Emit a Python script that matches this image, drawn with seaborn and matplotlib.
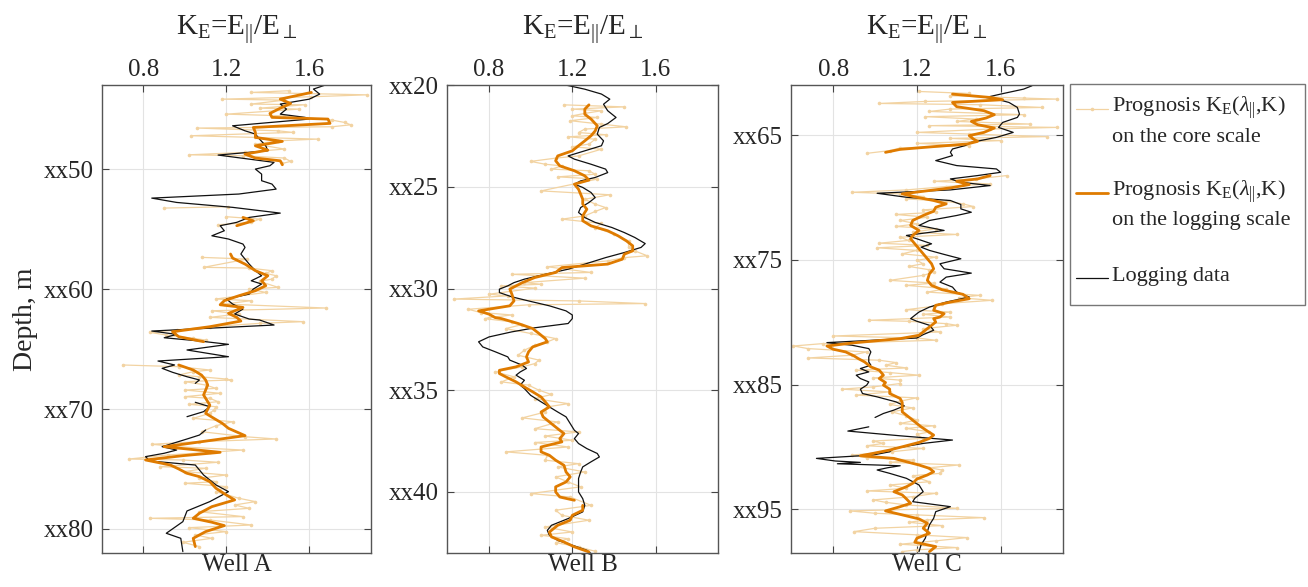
import numpy as np
import pandas as pd
import matplotlib
matplotlib.use('Agg')
import matplotlib.pyplot as plt
from matplotlib.lines import Line2D
from matplotlib.patches import Rectangle
import seaborn as sns

# (depth, K_E) pairs, None = gap in the curve

# ---- Well A ----
a_logging = [(42.92, 1.69), (43.33, 1.62), (43.75, 1.65), (44.17, 1.60), (44.58, 1.46), (45.0, 1.49),
             (45.42, 1.46), (45.69, 1.58), (45.83, 1.60), (46.39, 1.23), (46.81, 1.29), (47.08, 1.34),
             (47.5, 1.36), (48.06, 1.39), (48.47, 1.40), (48.83, 1.16), (49.17, 1.31), (49.44, 1.43),
             (49.72, 1.41), (50.0, 1.34), (50.42, 1.37), (50.97, 1.37), (51.25, 1.42), (51.67, 1.44),
             (52.08, 1.26), (52.42, 0.84), (52.78, 0.96), (53.19, 1.23), (53.67, 1.46), (54.03, 1.31),
             (54.44, 1.25), (54.72, 1.17), (55.14, 1.19), (55.56, 1.13), (55.83, 1.21), (56.25, 1.28),
             (56.53, 1.29), (57.08, 1.27), (57.5, 1.29), (57.92, 1.31), (58.47, 1.34), (58.89, 1.37),
             (59.31, 1.32), (59.58, 1.37), (60.0, 1.33), (60.42, 1.31), (60.83, 1.20), (61.25, 1.23),
             (61.67, 1.28), (62.08, 1.24), (62.5, 1.31), (62.58, 1.36), (63.0, 1.43), (63.5, 0.84),
             (63.78, 0.96), (64.06, 0.90), (64.33, 1.07), (64.61, 1.21), (65.08, 1.01), (65.64, 1.21),
             (66.0, 0.87), (66.33, 0.95), (66.61, 0.89), (66.94, 0.94), (67.31, 1.01), (67.58, 1.07),
             (67.86, 1.05), None, (69.44, 1.05), (69.81, 1.12), (70.22, 1.09), (70.64, 1.01), None,
             (71.75, 1.10), (72.17, 1.07), (72.5, 1.01), (73.14, 0.89), (73.42, 0.96), (73.69, 0.90),
             (73.97, 0.81), (74.33, 0.83), (74.67, 1.05), (75.5, 1.09), (76.33, 1.15), (76.89, 1.21),
             (77.72, 1.12), (78.5, 1.01), (79.39, 0.99), (80.36, 0.91), (80.78, 0.98), (81.89, 0.99)]

a_prog_log = [(43.61, 1.61), (44.17, 1.46), (44.53, 1.51), (44.92, 1.46), (45.36, 1.41), (45.69, 1.42),
              (45.83, 1.69), (46.19, 1.70), (46.53, 1.33), (46.94, 1.34), (47.36, 1.34), (47.69, 1.47),
              (48.06, 1.34), (48.42, 1.40), (48.75, 1.29), (49.08, 1.34), (49.31, 1.46), (49.64, 1.47),
              None, (54.03, 1.28), (54.31, 1.33), (54.72, 1.25), None,
              (57.08, 1.22), (57.42, 1.23), (57.92, 1.29), (58.47, 1.34), (58.89, 1.40), (59.31, 1.37),
              (59.72, 1.39), (60.14, 1.34), (60.56, 1.26), (60.97, 1.19), (61.31, 1.17), (61.53, 1.28),
              (62.03, 1.21), (62.36, 1.25), (62.67, 1.27), (63.14, 1.12), (63.56, 0.94), (63.97, 0.97),
              (64.39, 1.09), None,
              (66.33, 0.97), (66.75, 1.04), (67.17, 1.08), (67.58, 1.10), (68.0, 1.11), (68.83, 1.09),
              (69.67, 1.12), (70.36, 1.10), (70.78, 1.14), (71.19, 1.18), (71.61, 1.21), (72.22, 1.29),
              (72.58, 1.14), (72.94, 0.99), (73.14, 0.90), (73.61, 1.17), (73.89, 0.99), (74.25, 0.81),
              (74.67, 0.93), (75.0, 0.97), (75.36, 1.01), (75.64, 1.07), (76.06, 1.12), (76.61, 1.15),
              (77.17, 1.20), (77.58, 1.24), (78.14, 1.13), (78.69, 1.07), (79.11, 1.04), (79.44, 1.13),
              (79.72, 1.19), (80.22, 1.10), (80.78, 1.04), (81.47, 1.05)]

a_prog_core = [(43.47, 1.50), (43.61, 1.32), (43.81, 1.88), (43.97, 1.61), (44.17, 1.18), (44.25, 1.48),
               (44.58, 1.32), (44.64, 1.58), (44.92, 1.36), (45.0, 1.55), (45.42, 1.20), (45.56, 1.48),
               (45.92, 1.71), (46.11, 1.77), (46.31, 1.80), (46.47, 1.71), (46.58, 1.06), (46.81, 1.45),
               (46.94, 1.52), (47.22, 1.03), (47.36, 1.34), (47.5, 1.64), (47.64, 1.45), (47.92, 1.34),
               (48.33, 1.48), (48.61, 1.29), (48.81, 1.02), (48.89, 1.28), (49.08, 1.48), (49.36, 1.51),
               (49.53, 1.47), None, (53.14, 1.21), (53.25, 0.90), None,
               (53.97, 1.20), (54.17, 1.36), (54.44, 1.32), (54.64, 1.16), None,
               (57.36, 1.08), (57.5, 1.30), (58.19, 1.09), (58.25, 1.31), (58.47, 1.42), (58.69, 1.39),
               (58.89, 1.44), (59.17, 1.42), (59.36, 1.36), (59.86, 1.45), (60.0, 1.31), (60.28, 1.39),
               (60.83, 1.15), (60.97, 1.32), (61.25, 1.19), (61.58, 1.68), (61.81, 1.13), (62.08, 1.26),
               (62.36, 1.12), (62.72, 1.57), (62.86, 1.36), (63.14, 1.12), (63.42, 0.96), (63.61, 0.83),
               (63.83, 0.91), (64.11, 1.04), (64.25, 1.10), None,
               (66.33, 0.70), (66.47, 0.97), (66.75, 1.12), (66.89, 1.04), (67.17, 0.97), (67.31, 1.07),
               (67.5, 1.20), (67.58, 1.22), (67.72, 1.00), (68.0, 1.10), (68.28, 1.15), (68.42, 1.00),
               (68.69, 1.17), (68.97, 1.00), (69.11, 1.12), (69.39, 1.16), (69.61, 1.02), (69.81, 1.15),
               (70.08, 1.14), (70.36, 1.12), (70.78, 1.04), (71.06, 1.23), (71.39, 1.15), (71.89, 1.08),
               (72.31, 1.29), (72.5, 1.44), (72.72, 1.07), (72.94, 0.84), (73.14, 0.96), (73.42, 1.28),
               (73.61, 1.12), (73.83, 0.92), (74.17, 0.73), (74.25, 0.99), (74.44, 1.16), (74.81, 0.88),
               (74.94, 1.10), (75.22, 1.00), (75.5, 1.20), (75.78, 1.07), (76.06, 1.15), (76.19, 1.00),
               (76.47, 1.20), (76.89, 1.15), (77.44, 1.26), (77.72, 1.34), (78.0, 1.24), (78.28, 1.31),
               (78.56, 1.07), (78.97, 1.28), (79.11, 0.83), (79.25, 1.12), (79.67, 1.32), (79.89, 1.02),
               (80.22, 1.20), (80.5, 1.05), (80.78, 1.13), (81.11, 0.99), (81.47, 1.07)]

# ---- Well B ----
b_logging = [(20.0, 1.17), (20.2, 1.26), (20.44, 1.34), (20.69, 1.38), (20.94, 1.35), (21.26, 1.37),
             (21.59, 1.41), (21.89, 1.37), (22.08, 1.33), (22.41, 1.32), (22.74, 1.35), (22.98, 1.34),
             (23.23, 1.26), (23.48, 1.18), (23.64, 1.21), (23.89, 1.29), (24.13, 1.36), (24.3, 1.37),
             (24.54, 1.31), (24.71, 1.24), (24.87, 1.21), (25.03, 1.25), (25.28, 1.29), (25.53, 1.31),
             (25.77, 1.28), (26.02, 1.24), (26.26, 1.23), (26.51, 1.26), (26.75, 1.31), (27.0, 1.39),
             (27.25, 1.45), (27.49, 1.50), (27.79, 1.55), (27.98, 1.53), (28.23, 1.45), (28.48, 1.36),
             (28.8, 1.26), (29.05, 1.18), (29.3, 1.07), (29.54, 0.97), (29.71, 0.92), (29.87, 0.89),
             (30.03, 0.85), (30.2, 0.85), (30.41, 0.91), (30.61, 0.99), (30.85, 1.09), (31.1, 1.17),
             (31.3, 1.20), (31.48, 1.20), (31.72, 1.18), (31.93, 1.02), (32.13, 0.91), (32.38, 0.80),
             (32.62, 0.75), (32.87, 0.77), (33.11, 0.83), (33.36, 0.89), (33.52, 0.90), (33.77, 0.96),
             (33.93, 0.98), (34.1, 0.95), (34.26, 0.93), (34.51, 0.97), (34.75, 0.95), (34.92, 0.97),
             (35.25, 1.00), (35.57, 1.05), (35.82, 1.09), (36.07, 1.13), (36.31, 1.17), (36.64, 1.19),
             (36.97, 1.21), (37.13, 1.23), (37.38, 1.21), (37.62, 1.23), (37.87, 1.27), (38.11, 1.32),
             (38.28, 1.33), (38.52, 1.29), (38.77, 1.25), (39.02, 1.24), (39.34, 1.23), (39.67, 1.23),
             (40.0, 1.23), (40.33, 1.25), (40.66, 1.26), (40.98, 1.25), (41.31, 1.18), (41.64, 1.10),
             (41.89, 1.08), (42.13, 1.09), (42.38, 1.13), (42.62, 1.20), (42.87, 1.27), (43.03, 1.29)]

b_prog_log = [(20.97, 1.28), (21.18, 1.26), (21.43, 1.26), (21.67, 1.29), (22.0, 1.32), (22.25, 1.31),
              (22.49, 1.29), (22.74, 1.26), (22.98, 1.23), (23.23, 1.20), (23.48, 1.13), (23.72, 1.12),
              (23.97, 1.14), (24.21, 1.21), (24.46, 1.26), (24.67, 1.28), (24.87, 1.21), (25.12, 1.23),
              (25.36, 1.24), (25.61, 1.25), (25.85, 1.25), (26.1, 1.27), (26.26, 1.26), (26.43, 1.25),
              (26.67, 1.25), (26.92, 1.29), (27.16, 1.37), (27.41, 1.42), (27.66, 1.46), (27.9, 1.49),
              (28.15, 1.49), (28.31, 1.45), (28.56, 1.44), (28.8, 1.37), (28.97, 1.15), (29.21, 1.12),
              (29.46, 1.02), (29.71, 0.96), (29.87, 0.93), (30.03, 0.90), (30.28, 0.91), (30.61, 0.92),
              (30.85, 0.90), (31.1, 0.75), (31.26, 0.80), (31.43, 0.83), (31.48, 0.86), (31.72, 0.94),
              (31.97, 1.01), (32.21, 1.04), (32.46, 1.07), (32.62, 1.08), (32.87, 1.01), (33.11, 0.99),
              (33.36, 0.98), (33.61, 0.99), (33.85, 0.93), (34.02, 0.85), (34.18, 0.85), (34.34, 0.88),
              (34.59, 0.93), (34.84, 0.97), (35.08, 1.01), (35.33, 1.05), (35.57, 1.07), (35.82, 1.09),
              (36.07, 1.05), (36.31, 1.06), (36.56, 1.09), (36.89, 1.13), (37.13, 1.16), (37.38, 1.14),
              (37.54, 1.15), (37.79, 1.05), (38.03, 1.05), (38.2, 1.09), (38.44, 1.12), (38.69, 1.16),
              (39.02, 1.17), (39.26, 1.19), (39.51, 1.17), (39.75, 1.12), (40.0, 1.12), (40.25, 1.14),
              (40.41, 1.21), None,
              (40.66, 1.25), (40.9, 1.25), (41.15, 1.20), (41.39, 1.19), (41.64, 1.13), (41.97, 1.09),
              (42.21, 1.10), (42.46, 1.16), (42.7, 1.21), (42.95, 1.28)]

b_prog_core = [(20.97, 1.16), (21.07, 1.45), (21.18, 1.20), (21.26, 1.34), (21.39, 1.26), (21.51, 1.20),
               (21.59, 1.32), (21.75, 1.19), (21.92, 1.34), (22.05, 1.46), (22.16, 1.26), (22.33, 1.23),
               (22.44, 1.36), (22.54, 1.18), (22.66, 1.31), (22.9, 1.28), (23.03, 1.20), (23.15, 1.34),
               (23.48, 1.23), (23.59, 1.12), (23.75, 1.00), (23.89, 1.07), (23.97, 1.15), (24.13, 1.10),
               (24.21, 1.28), (24.38, 1.31), (24.51, 1.13), (24.62, 1.32), (25.2, 1.05), (25.39, 1.38),
               (25.61, 1.26), (25.85, 1.31), (26.02, 1.36), (26.21, 1.31), (26.43, 1.26), (26.59, 1.15),
               (26.8, 1.34), (27.0, 1.31), (27.33, 1.40), (27.66, 1.47), (27.98, 1.47), (28.15, 1.50),
               (28.39, 1.56), (28.48, 1.45), (28.64, 1.37), (28.93, 1.08), (29.21, 1.29), (29.3, 0.91),
               (29.49, 1.26), (29.71, 0.97), (29.79, 1.05), (29.87, 0.86), (29.98, 1.02), (30.28, 0.80),
               (30.36, 0.89), (30.52, 0.63), (30.61, 1.23), (30.74, 1.55), (30.8, 0.99), (31.02, 0.70),
               (31.18, 0.76), (31.3, 0.91), (31.43, 0.80), (31.48, 0.78), (31.64, 0.91), (31.77, 0.96),
               (31.97, 0.88), (32.21, 1.00), (32.46, 1.12), (32.62, 1.08), (32.79, 1.02), (33.03, 0.97),
               (33.28, 0.94), (33.52, 1.04), (33.69, 1.02), (33.85, 0.96), (34.1, 0.83), (34.34, 0.92),
               (34.59, 0.86), (34.75, 0.99), (35.0, 1.04), (35.21, 1.10), (35.41, 1.02), (35.66, 1.18),
               (35.82, 1.08), (36.07, 1.07), (36.36, 0.96), (36.56, 1.13), (36.89, 1.02), (37.05, 1.23),
               (37.25, 1.07), (37.46, 1.20), (37.57, 1.02), (37.79, 1.18), (38.03, 0.88), (38.2, 1.08),
               (38.44, 1.07), (38.61, 1.23), (38.77, 1.13), (39.02, 1.26), (39.26, 1.12), (39.51, 1.18),
               (39.75, 1.24), (40.08, 1.00), (40.25, 1.19), (40.66, 1.29), (40.9, 1.12), (41.15, 1.15),
               (41.39, 1.28), (41.72, 1.07), (41.97, 1.20), (42.13, 1.05), (42.3, 1.18), (42.49, 1.12),
               (42.7, 1.23), (42.92, 1.31)]

# ---- Well C ----
c_logging = [(61.05, 1.75), (61.32, 1.71), (61.72, 1.60), (61.99, 1.53), (62.12, 1.58), (62.39, 1.64),
             (62.79, 1.68), (63.32, 1.69), (63.59, 1.68), (63.99, 1.61), (64.39, 1.59), (64.79, 1.66),
             (65.19, 1.58), (65.59, 1.46), (65.85, 1.43), (66.12, 1.37), (66.39, 1.36), (66.65, 1.37),
             (67.05, 1.29), (67.45, 1.39), (67.72, 1.58), (67.99, 1.60), (68.25, 1.49), (68.52, 1.36),
             (68.79, 1.41), (69.05, 1.55), (69.4, 1.36), (69.67, 1.01), (69.99, 1.15), (70.25, 1.36),
             (70.57, 1.41), (70.92, 1.41), (71.19, 1.46), (71.45, 1.39), (71.85, 1.26), (72.25, 1.21),
             (72.65, 1.33), (73.05, 1.15), (73.32, 1.20), (73.72, 1.27), (73.99, 1.22), (74.25, 1.26),
             (74.57, 1.33), (74.92, 1.41), (75.32, 1.31), (75.72, 1.33), (76.07, 1.46), (76.39, 1.34),
             (76.79, 1.31), (77.19, 1.37), (77.59, 1.39), (77.99, 1.45), (78.39, 1.34), (78.79, 1.26),
             (79.19, 1.21), (79.45, 1.19), (79.72, 1.17), (79.93, 1.20), (80.25, 1.26), (80.65, 1.28),
             (81.0, 1.23), (81.27, 1.20), (81.45, 0.99), (81.64, 0.77), (81.85, 0.89), (82.12, 0.97),
             (82.39, 0.98), (82.79, 0.97), (83.19, 0.97), (83.45, 0.98), (83.72, 0.93), (83.99, 0.97),
             (84.25, 0.91), (84.52, 0.93), (84.79, 0.97), (85.05, 0.96), (85.37, 0.93), (85.72, 0.94),
             (85.99, 1.01), (86.39, 1.10), (86.71, 1.14), (87.05, 1.09), (87.32, 1.04), (87.64, 1.00),
             None,
             (88.39, 0.97), (88.73, 0.87), (89.11, 1.12), (89.45, 1.37), (89.72, 1.23), (90.12, 1.09),
             (90.39, 1.07), (90.65, 0.99), (90.92, 0.72), (91.13, 0.81), (91.24, 0.93), (91.35, 0.82),
             (91.51, 1.12), (91.67, 1.06), (91.85, 1.01), (92.12, 1.07), (92.52, 1.15), (93.05, 1.21),
             (93.59, 1.23), (94.12, 1.19), (94.39, 1.18), (94.79, 1.36), (95.19, 1.29), (95.72, 1.28),
             (96.25, 1.26), (96.79, 1.25), (97.32, 1.24), (97.85, 1.22), (98.39, 1.21)]

c_prog_log = [(61.72, 1.37), (61.99, 1.55), (62.17, 1.61), (62.39, 1.37), (62.73, 1.39), (63.05, 1.52),
              (63.37, 1.57), (63.64, 1.53), (63.91, 1.46), (64.17, 1.49), (64.44, 1.57), (64.79, 1.52),
              (65.05, 1.45), (65.32, 1.47), (65.51, 1.49), (65.72, 1.44), (65.93, 1.28), (66.15, 1.12),
              (66.39, 1.05), None,
              (68.25, 1.55), (68.52, 1.49), (68.71, 1.39), (68.97, 1.45), (69.24, 1.36), (69.51, 1.23),
              (69.72, 1.13), (69.99, 1.20), (70.25, 1.28), (70.52, 1.34), (70.79, 1.29), (71.11, 1.28),
              (71.45, 1.23), (71.85, 1.18), (72.25, 1.17), (72.65, 1.21), (73.05, 1.18), (73.32, 1.17),
              (73.72, 1.19), (74.12, 1.21), (74.52, 1.23), (74.92, 1.25), (75.32, 1.27), (75.72, 1.28),
              (76.12, 1.26), (76.65, 1.25), (77.05, 1.27), (77.4, 1.32), (77.77, 1.42), (78.12, 1.45),
              (78.39, 1.36), (78.65, 1.29), (79.05, 1.28), (79.32, 1.33), (79.59, 1.31), (79.72, 1.28),
              (79.99, 1.29), (80.39, 1.26), (80.65, 1.24), (81.05, 1.21), (81.32, 1.12), (81.64, 0.91),
              (81.91, 0.77), (82.17, 0.80), (82.39, 0.86), (82.71, 0.90), (82.92, 0.92), (83.19, 0.95),
              (83.59, 0.98), (83.85, 1.02), (84.25, 1.04), (84.52, 1.02), (84.84, 1.05), (85.05, 1.04),
              (85.37, 1.07), (85.72, 1.07), (86.12, 1.12), (86.44, 1.13), (86.79, 1.13), (87.19, 1.13),
              (87.59, 1.16), (87.99, 1.19), (88.39, 1.22), (88.73, 1.25), (89.05, 1.28), (89.32, 1.26),
              (89.64, 1.21), (89.99, 1.13), (90.25, 1.07), (90.52, 0.99), (90.71, 0.93), (90.92, 1.09),
              (91.19, 1.15), (91.45, 1.21), (91.72, 1.26), (91.99, 1.28), (92.25, 1.25), (92.57, 1.20),
              (92.92, 1.18), (93.19, 1.15), (93.59, 1.09), (93.85, 1.13), (94.17, 1.15), (94.52, 1.17),
              (94.79, 1.12), (95.13, 1.05), (95.45, 1.13), (95.77, 1.21), (96.12, 1.25), (96.52, 1.23),
              (96.92, 1.26), (97.32, 1.20), (97.64, 1.19), (97.99, 1.29), (98.39, 1.26)]

c_prog_core = [(61.51, 1.21), (61.67, 1.45), (61.85, 1.36), (62.04, 1.71), (62.12, 1.87), (62.31, 1.24),
               (62.47, 1.02), (62.57, 1.50), (62.79, 1.80), (62.92, 1.36), (63.11, 1.26), (63.37, 1.71),
               (63.53, 1.24), (63.72, 1.48), (63.91, 1.39), (64.12, 1.74), (64.25, 1.26), (64.39, 1.87),
               (64.52, 1.55), (64.79, 1.20), (64.92, 1.45), (65.13, 1.82), (65.27, 1.36), (65.45, 1.60),
               (65.67, 1.20), (65.85, 1.45), (66.04, 1.12), (66.25, 1.07), (66.47, 0.96), None,
               (68.25, 1.63), (68.52, 1.48), (68.71, 1.28), (68.92, 1.55), (69.13, 1.34), (69.4, 1.15),
               (69.59, 0.89), (69.72, 1.12), (69.93, 1.23), (70.12, 1.15), (70.31, 1.34), (70.52, 1.42),
               (70.73, 1.47), (71.0, 1.23), (71.19, 1.29), (71.37, 1.10), (71.59, 1.25), (71.85, 1.12),
               (72.12, 1.20), (72.33, 1.10), (72.52, 1.29), (72.79, 1.18), (72.97, 1.39), (73.19, 1.12),
               (73.45, 1.16), (73.67, 1.02), (73.85, 1.25), (74.04, 1.01), (74.25, 1.20), (74.52, 1.13),
               (74.79, 1.29), (75.05, 1.20), (75.32, 1.23), (75.53, 1.16), (75.8, 1.26), (75.99, 1.28),
               (76.25, 1.23), (76.65, 1.07), (76.87, 1.28), (77.05, 1.15), (77.32, 1.34), (77.59, 1.25),
               (77.85, 1.50), (78.04, 1.40), (78.25, 1.56), (78.52, 1.32), (78.73, 1.28), (79.0, 1.15),
               (79.19, 1.36), (79.37, 1.23), (79.59, 1.36), (79.85, 0.97), (79.93, 1.16), (80.12, 1.34),
               (80.25, 1.39), (80.52, 1.23), (80.79, 1.31), (81.11, 0.80), (81.27, 1.20), (81.45, 1.29),
               (81.72, 0.75), (81.91, 0.61), (82.12, 0.68), (82.39, 0.96), (82.65, 0.89), (82.87, 0.68),
               (83.05, 1.02), (83.24, 1.10), (83.45, 1.05), (83.67, 1.15), (83.85, 0.91), (84.04, 1.07),
               (84.25, 1.21), (84.47, 0.99), (84.65, 1.12), (84.92, 1.12), (85.19, 0.99), (85.37, 0.84),
               (85.59, 1.07), (85.85, 0.91), (86.07, 1.20), (86.33, 1.12), (86.6, 1.07), (86.87, 1.18),
               (87.19, 1.08), (87.51, 1.15), (87.85, 1.20), (88.12, 1.12), (88.31, 1.28), (88.52, 1.15),
               (88.79, 1.26), (89.0, 1.20), (89.32, 1.23), (89.53, 0.99), (89.72, 1.04), (89.91, 0.96),
               (90.12, 1.23), (90.39, 1.08), (90.65, 0.89), (90.87, 0.96), (91.05, 1.18), (91.24, 1.07),
               (91.45, 1.40), (91.67, 1.26), (91.85, 1.32), (92.12, 1.31), (92.31, 1.18), (92.52, 1.21),
               (92.79, 1.26), (93.05, 1.07), (93.32, 1.15), (93.53, 0.96), (93.72, 1.29), (93.99, 1.18),
               (94.25, 0.99), (94.44, 1.05), (94.65, 1.15), (94.92, 1.39), (95.13, 0.88), (95.32, 1.00),
               (95.45, 1.20), (95.67, 1.52), (95.85, 1.25), (96.04, 1.16), (96.31, 1.32), (96.52, 1.00),
               (96.79, 0.90), (97.05, 1.20), (97.27, 1.44), (97.53, 1.29), (97.8, 1.12), (98.07, 1.39),
               (98.25, 1.20), (98.39, 1.13)]

wells = ['Well A', 'Well B', 'Well C']
depth_limits = [(43, 82), (20, 43), (61, 98.5)]
depth_ticks = [[50, 60, 70, 80], [20, 25, 30, 35, 40], [65, 75, 85, 95]]
ke_ticks = [0.8, 1.2, 1.6]

series = {
    'Well A': (a_prog_core, a_prog_log, a_logging),
    'Well B': (b_prog_core, b_prog_log, b_logging),
    'Well C': (c_prog_core, c_prog_log, c_logging),
}

legend_labels = [
    [r'Prognosis K$_\mathrm{E}$($\lambda_{||}$,K)', 'on the core scale'],
    [r'Prognosis K$_\mathrm{E}$($\lambda_{||}$,K)', 'on the logging scale'],
    ['Logging data'],
]

core_color = '#F2D3A2'
prog_color = '#DF7B00'
log_color = '#111111'


def to_frame(pairs):
    rows = []
    seg = 0
    for p in pairs:
        if p is None:
            seg += 1
            continue
        rows.append((p[0], p[1], seg))
    return pd.DataFrame(rows, columns=['depth', 'ke', 'seg'])


sns.set_style('white')
plt.rcParams['font.family'] = ['Liberation Serif', 'DejaVu Serif']
plt.rcParams['mathtext.fontset'] = 'custom'
plt.rcParams['mathtext.rm'] = 'Liberation Serif'
plt.rcParams['mathtext.it'] = 'Liberation Serif:italic'

W, H = 1308, 587
fig = plt.figure(figsize=(W / 100, H / 100), dpi=100)
lefts = [0.078, 0.342, 0.605]
widths = [0.206, 0.207, 0.208]

for i, well in enumerate(wells):
    ax = fig.add_axes([lefts[i], 0.058, widths[i], 0.797])
    core, prog, logd = series[well]
    sns.lineplot(data=to_frame(core), x='ke', y='depth', units='seg', estimator=None, sort=False,
                 color=core_color, lw=0.9, marker='o', markersize=2.6, markeredgewidth=0,
                 ax=ax, legend=False)
    sns.lineplot(data=to_frame(logd), x='ke', y='depth', units='seg', estimator=None, sort=False,
                 color=log_color, lw=0.9, ax=ax, legend=False)
    sns.lineplot(data=to_frame(prog), x='ke', y='depth', units='seg', estimator=None, sort=False,
                 color=prog_color, lw=2.0, ax=ax, legend=False)

    ax.set_xlim(0.6, 1.9)
    ax.set_ylim(depth_limits[i][1], depth_limits[i][0])
    ax.set_xticks(ke_ticks)
    ax.set_xticklabels([f'{t:.1f}' for t in ke_ticks])
    ax.set_yticks(depth_ticks[i])
    ax.set_yticklabels([f'xx{t}' for t in depth_ticks[i]])
    ax.tick_params(axis='both', direction='in', length=5, width=0.8, color='#444444',
                   labelsize=18, top=True, bottom=True, left=True, right=True,
                   labeltop=True, labelbottom=False, pad=6)
    ax.tick_params(axis='x', pad=3)
    ax.grid(True, color='#e3e3e3', lw=0.8)
    ax.set_axisbelow(True)
    for s in ax.spines.values():
        s.set_color('#555555')
        s.set_linewidth(1.0)
    ax.set_xlabel(well, fontsize=18, labelpad=1)
    ax.set_ylabel('Depth, m' if i == 0 else '', fontsize=20, labelpad=4)
    ax.set_title(r'K$_\mathrm{E}$=E$_{||}$/E$_{\perp}$', fontsize=21, pad=36)


# legend box drawn in figure pixel coordinates (MATLAB style: handle on first text line)
def fx(px):
    return px / W


def fy(py):
    return 1 - py / H


fig.patches.append(Rectangle((fx(1070), fy(305)), fx(1305) - fx(1070), fy(84) - fy(305),
                             transform=fig.transFigure, fill=False, edgecolor='#777777', lw=1.0))
handle_styles = [
    dict(color=core_color, lw=0.9, marker='o', markersize=2.6, markeredgewidth=0, markevery=[1]),
    dict(color=prog_color, lw=2.0),
    dict(color=log_color, lw=0.9),
]
first_rows = [108, 192, 277]
for row, style, lines in zip(first_rows, handle_styles, legend_labels):
    fig.lines.append(Line2D([fx(1076), fx(1092), fx(1108)], [fy(row + 1)] * 3,
                            transform=fig.transFigure, **style))
    for k, txt in enumerate(lines):
        fig.text(fx(1112), fy(row + 29 * k), txt, fontsize=16, va='center', ha='left')

fig.savefig('out.png', dpi=100)
